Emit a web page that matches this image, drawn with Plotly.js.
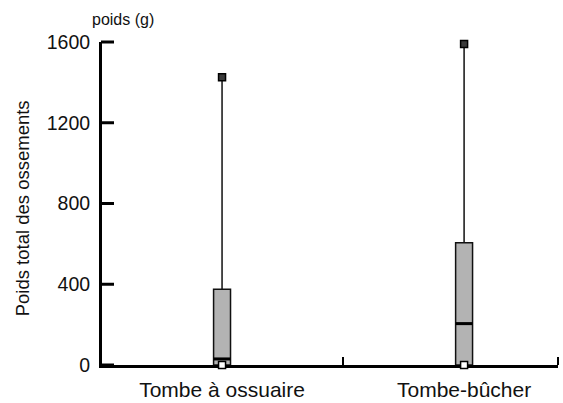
<!DOCTYPE html>
<html>
<head>
<meta charset="utf-8">
<script src="https://cdn.plot.ly/plotly-3.0.1.min.js"></script>
<style>html,body{margin:0;padding:0;background:#fff;}#chart{width:563px;height:403px;}</style>
</head>
<body>
<div id="chart"></div>
<script>
const categories = ['Tombe à ossuaire', 'Tombe-bûcher'];
const positions = [1, 2];
const minVals = [0, 0];
const q1Vals = [0, 0];
const medianVals = [30, 205];
const q3Vals = [375, 605];
const maxVals = [1425, 1590];
const yTicks = [0, 400, 800, 1200, 1600];

const FONT = 'Liberation Sans, Arial, sans-serif';
const yRange = [0, 1600];
const xRange = [0.504, 2.388];

const boxTrace = {
  type: 'box',
  x: positions,
  q1: q1Vals,
  median: medianVals,
  q3: q3Vals,
  lowerfence: q1Vals,
  upperfence: maxVals,
  width: 0.07,
  whiskerwidth: 0,
  fillcolor: '#b3b3b3',
  line: {color: '#111', width: 1.5},
  boxpoints: false,
  hoverinfo: 'skip',
  showlegend: false
};

const medianTrace = {
  type: 'scatter', mode: 'markers',
  x: positions, y: medianVals,
  marker: {symbol: 'line-ew', size: 12, line: {color: '#000', width: 3}},
  cliponaxis: false, showlegend: false, hoverinfo: 'skip'
};

const maxTrace = {
  type: 'scatter', mode: 'markers',
  x: positions, y: maxVals,
  marker: {symbol: 'square', size: 7, color: '#3a3a3a', line: {color: '#000', width: 1.5}},
  cliponaxis: false, showlegend: false, hoverinfo: 'skip'
};

const minTrace = {
  type: 'scatter', mode: 'markers',
  x: positions, y: minVals,
  marker: {symbol: 'square', size: 7, color: '#fff', line: {color: '#000', width: 1.5}},
  cliponaxis: false, showlegend: false, hoverinfo: 'skip'
};

// y-axis tick marks pointing into the plot
const yTickShapes = yTicks.map(v => ({
  type: 'line', xref: 'paper', yref: 'paper',
  xsizemode: 'pixel', xanchor: 0, x0: -1, x1: 12,
  y0: (v - yRange[0]) / (yRange[1] - yRange[0]),
  y1: (v - yRange[0]) / (yRange[1] - yRange[0]),
  line: {color: '#000', width: 3}
}));

const layout = {
  width: 563, height: 403,
  margin: {l: 102, r: 5, t: 42, b: 38},
  paper_bgcolor: '#fff', plot_bgcolor: '#fff',
  font: {family: FONT, color: '#000'},
  showlegend: false,
  xaxis: {
    type: 'linear',
    range: xRange,
    tickmode: 'array', tickvals: positions, ticktext: categories,
    ticks: '', showgrid: false, zeroline: false,
    showline: true, linecolor: '#000', linewidth: 2.5,
    tickfont: {size: 21, family: FONT, color: '#111'},
    ticklabelstandoff: 4,
    layer: 'below traces',
    minor: {tickmode: 'array', tickvals: [1.5, xRange[1]], ticks: 'inside', ticklen: 8, tickwidth: 2.5, tickcolor: '#000', showgrid: false},
    fixedrange: true
  },
  yaxis: {
    range: yRange,
    tickmode: 'array', tickvals: yTicks,
    ticks: '',
    showgrid: false, zeroline: false,
    showline: true, linecolor: '#000', linewidth: 3,
    tickfont: {size: 19.5, family: FONT, color: '#111'},
    ticklabelstandoff: 5,
    layer: 'below traces',
    fixedrange: true
  },
  shapes: yTickShapes,
  annotations: [{
    xref: 'paper', yref: 'paper', x: 0.047, y: 1, yshift: 23,
    text: 'poids (g)', showarrow: false,
    font: {size: 16, family: FONT, color: '#111'}, xanchor: 'center', yanchor: 'middle'
  }, {
    xref: 'paper', yref: 'paper', x: 0, xshift: -80, y: 0.485,
    text: 'Poids total des ossements', textangle: -90, showarrow: false,
    font: {size: 18.5, family: FONT, color: '#111'}, xanchor: 'center', yanchor: 'middle'
  }]
};

Plotly.newPlot('chart', [boxTrace, medianTrace, maxTrace, minTrace], layout, {displayModeBar: false, staticPlot: true});
</script>
</body>
</html>
